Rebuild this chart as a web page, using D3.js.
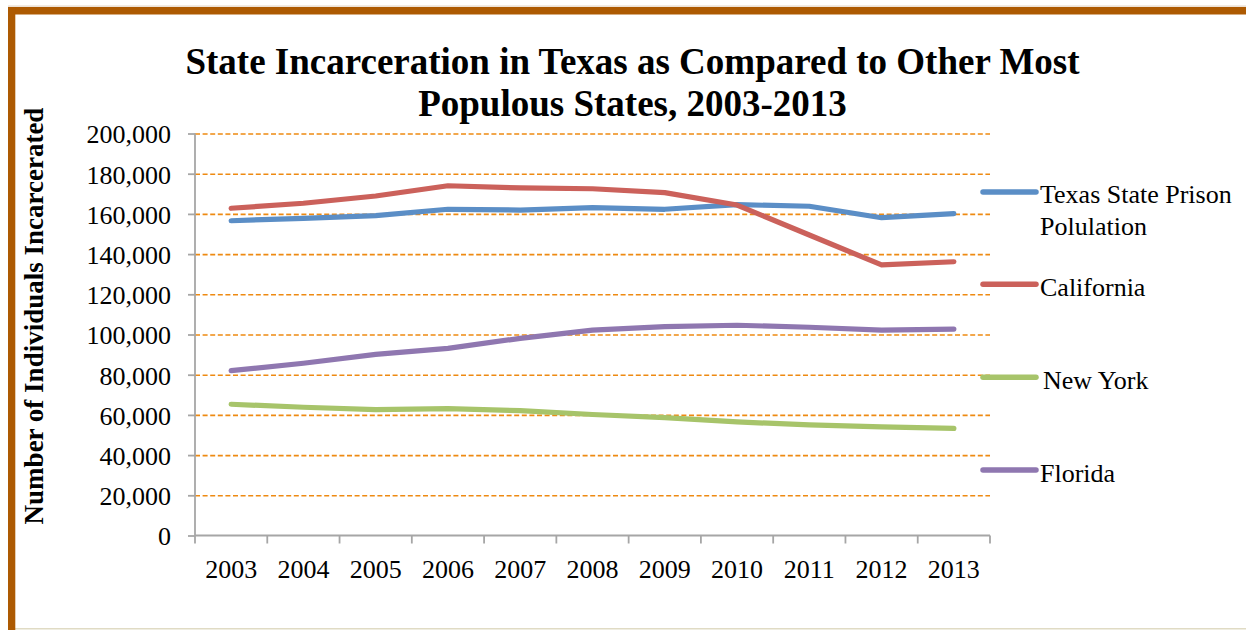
<!DOCTYPE html>
<html>
<head>
<meta charset="utf-8">
<script src="https://cdn.jsdelivr.net/npm/d3@7"></script>
<style>
  html, body { margin: 0; padding: 0; background: #fff; }
  svg { display: block; }
  text { font-family: "Liberation Serif", "Times New Roman", serif; fill: #000; }
</style>
</head>
<body>
<svg id="chart" width="1246" height="630"></svg>
<script>
const years = ["2003","2004","2005","2006","2007","2008","2009","2010","2011","2012","2013"];
const texas      = [156600, 157800, 159100, 162300, 161900, 163100, 162300, 164600, 163800, 158100, 160100];
const california = [162800, 165300, 168900, 174000, 172900, 172500, 170600, 164400, 149500, 134600, 136200];
const newYork    = [65300, 63800, 62600, 63100, 62100, 60200, 58600, 56500, 55000, 54000, 53300];
const florida    = [82000, 85700, 90100, 93100, 98100, 102200, 103900, 104600, 103600, 102200, 102700];
const yTicks     = [0, 20000, 40000, 60000, 80000, 100000, 120000, 140000, 160000, 180000, 200000];
const seriesNames  = ["Texas State Prison Polulation", "California", "New York", "Florida"];
const seriesColors = ["#5B8EC6", "#CB615B", "#A7C46A", "#8F77B0"];
const seriesData   = [texas, california, newYork, florida];

const svg = d3.select("#chart");

// frame
svg.append("rect").attr("x", 15).attr("y", 628).attr("width", 1231).attr("height", 1.5).attr("fill", "#E0DBC4");
svg.append("rect").attr("x", 8).attr("y", 5.5).attr("width", 1238).attr("height", 1.2).attr("fill", "#E6D8C8");
svg.append("rect").attr("x", 8).attr("y", 7).attr("width", 1238).attr("height", 7.5).attr("fill", "#AD5A02");
svg.append("rect").attr("x", 8).attr("y", 7).attr("width", 7.3).attr("height", 623).attr("fill", "#AD5A02");

const x = d3.scaleBand().domain(years).range([195, 990]);
const y = d3.scaleLinear().domain([0, 200000]).range([535.5, 133.5]);

// gridlines
const grid = svg.append("g").attr("transform", "translate(195,0)")
  .call(d3.axisLeft(y).tickValues(yTicks.filter(d => d > 0)).tickSize(-795).tickFormat(""));
grid.select(".domain").remove();
grid.selectAll("line").attr("stroke", "#EE8A12").attr("stroke-width", 1.6).attr("stroke-dasharray", "5,2.6");

// y axis
const yAx = svg.append("g").attr("transform", "translate(195,0)")
  .call(d3.axisLeft(y).tickValues(yTicks).tickSize(7).tickPadding(17).tickFormat(d3.format(",")));
yAx.select(".domain").attr("stroke", "#A6A6A6").attr("stroke-width", 1.8).attr("d", "M0,133.5V535.5");
yAx.selectAll("line").attr("stroke", "#A6A6A6").attr("stroke-width", 1.8);
yAx.selectAll("text").attr("font-size", 26).attr("font-family", "Liberation Serif").attr("fill", "#000").attr("dy", "0.36em");

// x axis
const xAx = svg.append("g").attr("transform", "translate(0,535.5)")
  .call(d3.axisBottom(x).tickSize(0).tickPadding(24));
xAx.select(".domain").attr("stroke", "#A6A6A6").attr("stroke-width", 1.8).attr("d", "M195,0H990");
xAx.selectAll("text").attr("font-size", 26).attr("font-family", "Liberation Serif").attr("fill", "#000");
const bounds = years.map(d => x(d)).concat([x.range()[1]]);
svg.append("g").selectAll("line").data(bounds).join("line")
  .attr("x1", d => d).attr("x2", d => d).attr("y1", 535.5).attr("y2", 543.5)
  .attr("stroke", "#A6A6A6").attr("stroke-width", 1.8);

// lines
const line = d3.line().x((d, i) => x(years[i]) + x.bandwidth() / 2).y(d => y(d));
svg.append("g").selectAll("path").data(seriesData).join("path")
  .attr("d", d => line(d)).attr("fill", "none")
  .attr("stroke", (d, i) => seriesColors[i]).attr("stroke-width", 5.2)
  .attr("stroke-linecap", "round").attr("stroke-linejoin", "round");

// title
const title = svg.append("text").attr("text-anchor", "middle").attr("font-weight", "bold").attr("font-size", 37);
title.append("tspan").attr("x", 632.5).attr("y", 74).text("State Incarceration in Texas as Compared to Other Most");
title.append("tspan").attr("x", 632.5).attr("y", 116).text("Populous States, 2003-2013");

// y label
svg.append("text").attr("transform", "translate(43,316) rotate(-90)").attr("text-anchor", "middle")
  .attr("font-weight", "bold").attr("font-size", 27).text("Number of Individuals Incarcerated");

// legend
const legY = [192, 284.3, 377.3, 470];
const legTextX = [1040, 1040, 1043, 1040];
const leg = svg.append("g");
seriesNames.forEach((name, i) => {
  leg.append("line").attr("x1", 983).attr("x2", 1036).attr("y1", legY[i]).attr("y2", legY[i])
    .attr("stroke", seriesColors[i]).attr("stroke-width", 5.5).attr("stroke-linecap", "round");
  const t = leg.append("text").attr("font-size", 26);
  if (i === 0) {
    t.append("tspan").attr("x", legTextX[i]).attr("y", legY[i] + 11).text("Texas State Prison");
    t.append("tspan").attr("x", legTextX[i]).attr("y", legY[i] + 43).text("Polulation");
  } else {
    t.append("tspan").attr("x", legTextX[i]).attr("y", legY[i] + 12).text(name);
  }
});
</script>
</body>
</html>
